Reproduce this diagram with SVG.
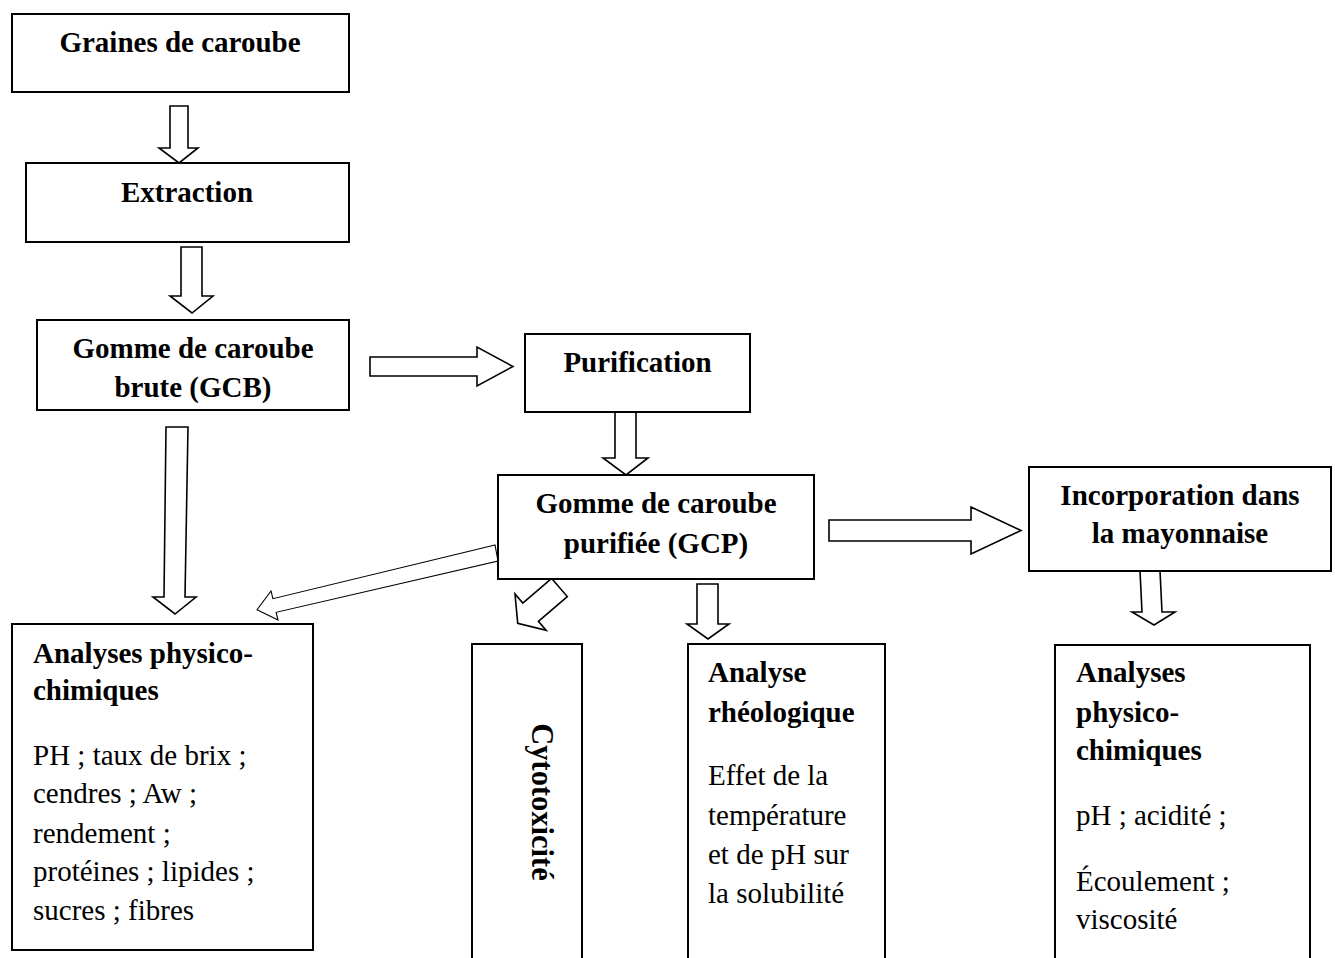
<svg xmlns="http://www.w3.org/2000/svg" width="1335" height="958" viewBox="0 0 1335 958">
<style>
.box{fill:#fff;stroke:#000;stroke-width:2}
.arr{fill:#fff;stroke:#000;stroke-width:1.6;stroke-linejoin:miter}
.thin{fill:#fff;stroke:#000;stroke-width:1.1}
text{font-family:"Liberation Serif","Times New Roman",serif;font-size:29px;fill:#000}
.b{font-weight:bold}
.c{text-anchor:middle}
</style>
<rect width="1335" height="958" fill="#fff"/>
<g id="connectors">
<polygon class="arr" points="170,106 188,106 188,148 198,148 179,163 159,148 170,148"/>
<polygon class="arr" points="181,247 202,247 202,296 213,296 192,313 170,296 181,296"/>
<polygon class="arr" points="370,357 477,357 477,347 513,366.5 477,386 477,376 370,376"/>
<polygon class="arr" points="615,412 636,412 636,458 648,458 626,475 603,458 615,458"/>
<polygon class="arr" points="166,427 188,427 185,597 196,597 175,614 153,597 164,597"/>
<polygon class="thin" points="495,545 272.9,598.7 271,590.9 257,609.7 278,620.1 276.1,612.3 498,561"/>
<polygon class="arr" points="551.7,578.4 567.3,596.6 538.4,621.3 546.2,630.4 517.7,623.3 515,594 522.8,603.1"/>
<polygon class="arr" points="697,584 718,584 718,624 729,624 708,639 687,624 697,624"/>
<polygon class="arr" points="829,520 971,520 971,507 1021,530.5 971,554 971,541 829,541"/>
<polygon class="arr" points="1140,571 1160,571 1162,612 1175,612 1154,625 1132,612 1142,612"/>
</g>
<g id="graines">
<rect class="box" x="12" y="14" width="337" height="78"/>
<text class="b c" x="180" y="52">Graines de caroube</text>
</g>
<g id="extraction">
<rect class="box" x="26" y="163" width="323" height="79"/>
<text class="b c" x="187" y="202">Extraction</text>
</g>
<g id="gcb">
<rect class="box" x="37" y="320" width="312" height="90"/>
<text class="b c" x="193" y="358">Gomme de caroube</text>
<text class="b c" x="193" y="397">brute (GCB)</text>
</g>
<g id="purification">
<rect class="box" x="525" y="334" width="225" height="78"/>
<text class="b c" x="637.5" y="372">Purification</text>
</g>
<g id="gcp">
<rect class="box" x="498" y="475" width="316" height="104"/>
<text class="b c" x="656" y="513">Gomme de caroube</text>
<text class="b c" x="656" y="553">purifiée (GCP)</text>
</g>
<g id="incorporation">
<rect class="box" x="1029" y="467" width="302" height="104"/>
<text class="b c" x="1180" y="505">Incorporation dans</text>
<text class="b c" x="1180" y="543">la mayonnaise</text>
</g>
<g id="analyses-gcb">
<rect class="box" x="12" y="624" width="301" height="326"/>
<text class="b" x="33" y="663">Analyses physico-</text>
<text class="b" x="33" y="700">chimiques</text>
<text x="33" y="765">PH ; taux de brix ;</text>
<text x="33" y="803">cendres ; Aw ;</text>
<text x="33" y="843">rendement ;</text>
<text x="33" y="881">protéines ; lipides ;</text>
<text x="33" y="920">sucres ; fibres</text>
</g>
<g id="cytotoxicite">
<rect class="box" x="472" y="644" width="110" height="330"/>
<text class="b c" style="font-size:30.5px" transform="translate(532,802) rotate(90)">Cytotoxicité</text>
</g>
<g id="rheologie">
<rect class="box" x="688" y="644" width="197" height="330"/>
<text class="b" x="708" y="682">Analyse</text>
<text class="b" x="708" y="722">rhéologique</text>
<text x="708" y="785">Effet de la</text>
<text x="708" y="825">température</text>
<text x="708" y="864">et de pH sur</text>
<text x="708" y="903">la solubilité</text>
</g>
<g id="analyses-mayo">
<rect class="box" x="1055" y="645" width="255" height="330"/>
<text class="b" x="1076" y="682">Analyses</text>
<text class="b" x="1076" y="722">physico-</text>
<text class="b" x="1076" y="760">chimiques</text>
<text x="1076" y="825">pH ; acidité ;</text>
<text x="1076" y="891">Écoulement ;</text>
<text x="1076" y="929">viscosité</text>
</g>
</svg>
